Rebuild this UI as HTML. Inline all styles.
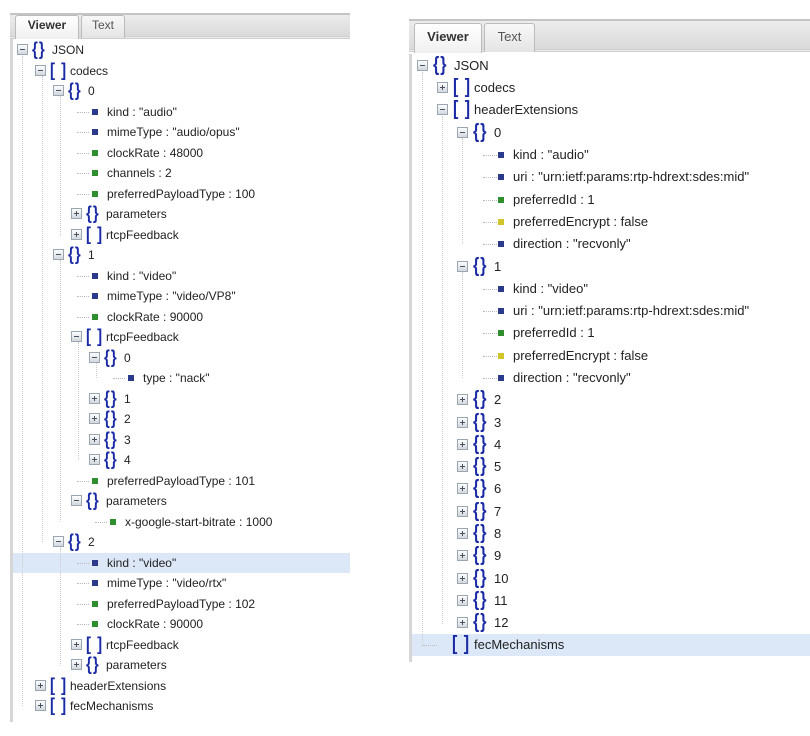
<!DOCTYPE html>
<html><head><meta charset="utf-8"><style>
html,body{margin:0;padding:0;background:#fff;width:810px;height:736px;overflow:hidden;font-family:"Liberation Sans",sans-serif;color:#222}
.abs{position:absolute}
.bar{position:absolute;background:linear-gradient(#ececec,#dadada);border-top:2px solid #c4c4c4;border-bottom:3px double #cfcfcf}
.tab{position:absolute;background:linear-gradient(#f8f8f8,#e4e4e4);border:1px solid #bbb;border-bottom:none;border-radius:3px 3px 0 0;text-align:center;color:#555}
.tab.on{background:linear-gradient(#ffffff,#f0f0f0);color:#333;font-weight:bold}
.r{position:absolute;white-space:nowrap}
.ex{position:absolute;width:9px;height:9px;border:1px solid #9aa6b2;background:linear-gradient(#fdfdfd,#d3d8de)}
.ex::before{content:"";position:absolute;left:2px;top:4px;width:5px;height:1px;background:#4a5260}
.ex.p::after{content:"";position:absolute;left:4px;top:2px;width:1px;height:5px;background:#4a5260}
.ic{position:absolute;color:#1b2ba6;font-weight:bold;letter-spacing:1px;transform:scaleY(1.25);transform-origin:0 50%}
.lb{position:absolute}
.sq{position:absolute;width:6px;height:6px}
.b{background:#2b3a8a}.g{background:#2f8f2f}.y{background:#cfc42a}
.dh{position:absolute;border-top:1px dotted #bbb;height:0}
.dv{position:absolute;border-left:1px dotted #ccc;width:0}
.L .r{height:20px;line-height:20px;font-size:12px}
.L .ex{top:4px}
.L .ic{font-size:15px;top:0px;left:15px}
.L .lb{left:35px}
.L .sq{left:21px;top:7px}
.L .lf .lb{left:36px}
.L .dh{left:6px;width:12px;top:10px}
.R .r{height:22px;line-height:22px;font-size:13px}
.R .ex{top:5px}
.R .ic{font-size:16px;top:0px;left:16px}
.R .lb{left:37px}
.R .sq{left:21px;top:8px}
.R .lf .lb{left:36px}
.R .dh{left:6px;width:14px;top:11px}
</style></head><body>

<!-- LEFT PANEL -->
<div class="bar" style="left:10px;top:13px;width:340px;height:21px"></div>
<div class="tab on" style="left:15px;top:15px;width:62px;height:23px;line-height:18px;font-size:12px">Viewer</div>
<div class="tab" style="left:81px;top:15px;width:42px;height:22px;line-height:18px;font-size:12px">Text</div>
<div class="abs" style="left:10px;top:39px;width:3px;height:683px;background:#d6d6d6"></div>
<div class="abs" style="left:13px;top:553px;width:337px;height:20px;background:#dce7f7"></div>

<div class="L">
<div class="dv" style="left:22px;top:56px;height:650px"></div>
<div class="dv" style="left:42px;top:76px;height:466px"></div>
<div class="dv" style="left:60px;top:96px;height:140px"></div>
<div class="dv" style="left:60px;top:260px;height:262px"></div>
<div class="dv" style="left:60px;top:548px;height:118px"></div>
<div class="dv" style="left:78px;top:342px;height:118px"></div>
<div class="dv" style="left:96px;top:363px;height:15px"></div>

<div class="r" style="top:40px;left:17px"><span class="ex"></span><span class="ic">{}</span><span class="lb">JSON</span></div>
<div class="r" style="top:61px;left:35px"><span class="ex"></span><span class="ic">[ ]</span><span class="lb">codecs</span></div>
<div class="r" style="top:81px;left:53px"><span class="ex"></span><span class="ic">{}</span><span class="lb">0</span></div>
<div class="r lf" style="top:102px;left:71px"><span class="dh"></span><span class="sq b"></span><span class="lb">kind : "audio"</span></div>
<div class="r lf" style="top:122px;left:71px"><span class="dh"></span><span class="sq b"></span><span class="lb">mimeType : "audio/opus"</span></div>
<div class="r lf" style="top:143px;left:71px"><span class="dh"></span><span class="sq g"></span><span class="lb">clockRate : 48000</span></div>
<div class="r lf" style="top:163px;left:71px"><span class="dh"></span><span class="sq g"></span><span class="lb">channels : 2</span></div>
<div class="r lf" style="top:184px;left:71px"><span class="dh"></span><span class="sq g"></span><span class="lb">preferredPayloadType : 100</span></div>
<div class="r" style="top:204px;left:71px"><span class="ex p"></span><span class="ic">{}</span><span class="lb">parameters</span></div>
<div class="r" style="top:225px;left:71px"><span class="ex p"></span><span class="ic">[ ]</span><span class="lb">rtcpFeedback</span></div>
<div class="r" style="top:245px;left:53px"><span class="ex"></span><span class="ic">{}</span><span class="lb">1</span></div>
<div class="r lf" style="top:266px;left:71px"><span class="dh"></span><span class="sq b"></span><span class="lb">kind : "video"</span></div>
<div class="r lf" style="top:286px;left:71px"><span class="dh"></span><span class="sq b"></span><span class="lb">mimeType : "video/VP8"</span></div>
<div class="r lf" style="top:307px;left:71px"><span class="dh"></span><span class="sq g"></span><span class="lb">clockRate : 90000</span></div>
<div class="r" style="top:327px;left:71px"><span class="ex"></span><span class="ic">[ ]</span><span class="lb">rtcpFeedback</span></div>
<div class="r" style="top:348px;left:89px"><span class="ex"></span><span class="ic">{}</span><span class="lb">0</span></div>
<div class="r lf" style="top:368px;left:107px"><span class="dh"></span><span class="sq b"></span><span class="lb">type : "nack"</span></div>
<div class="r" style="top:389px;left:89px"><span class="ex p"></span><span class="ic">{}</span><span class="lb">1</span></div>
<div class="r" style="top:409px;left:89px"><span class="ex p"></span><span class="ic">{}</span><span class="lb">2</span></div>
<div class="r" style="top:430px;left:89px"><span class="ex p"></span><span class="ic">{}</span><span class="lb">3</span></div>
<div class="r" style="top:450px;left:89px"><span class="ex p"></span><span class="ic">{}</span><span class="lb">4</span></div>
<div class="r lf" style="top:471px;left:71px"><span class="dh"></span><span class="sq g"></span><span class="lb">preferredPayloadType : 101</span></div>
<div class="r" style="top:491px;left:71px"><span class="ex"></span><span class="ic">{}</span><span class="lb">parameters</span></div>
<div class="r lf" style="top:512px;left:89px"><span class="dh"></span><span class="sq g"></span><span class="lb">x-google-start-bitrate : 1000</span></div>
<div class="r" style="top:532px;left:53px"><span class="ex"></span><span class="ic">{}</span><span class="lb">2</span></div>
<div class="r lf" style="top:553px;left:71px"><span class="dh"></span><span class="sq b"></span><span class="lb">kind : "video"</span></div>
<div class="r lf" style="top:573px;left:71px"><span class="dh"></span><span class="sq b"></span><span class="lb">mimeType : "video/rtx"</span></div>
<div class="r lf" style="top:594px;left:71px"><span class="dh"></span><span class="sq g"></span><span class="lb">preferredPayloadType : 102</span></div>
<div class="r lf" style="top:614px;left:71px"><span class="dh"></span><span class="sq g"></span><span class="lb">clockRate : 90000</span></div>
<div class="r" style="top:635px;left:71px"><span class="ex p"></span><span class="ic">[ ]</span><span class="lb">rtcpFeedback</span></div>
<div class="r" style="top:655px;left:71px"><span class="ex p"></span><span class="ic">{}</span><span class="lb">parameters</span></div>
<div class="r" style="top:676px;left:35px"><span class="ex p"></span><span class="ic">[ ]</span><span class="lb">headerExtensions</span></div>
<div class="r" style="top:696px;left:35px"><span class="ex p"></span><span class="ic">[ ]</span><span class="lb">fecMechanisms</span></div>
</div>

<!-- RIGHT PANEL -->
<div class="bar" style="left:409px;top:19px;width:401px;height:28px"></div>
<div class="tab on" style="left:414px;top:23px;width:66px;height:29px;line-height:26px;font-size:13px">Viewer</div>
<div class="tab" style="left:484px;top:23px;width:49px;height:28px;line-height:26px;font-size:13px">Text</div>
<div class="abs" style="left:409px;top:54px;width:3px;height:608px;background:#d6d6d6"></div>
<div class="abs" style="left:412px;top:634px;width:398px;height:22px;background:#dce7f7"></div>

<div class="R">
<div class="dv" style="left:422px;top:72px;height:574px"></div>
<div class="dv" style="left:442px;top:116px;height:508px"></div>
<div class="dv" style="left:462px;top:138px;height:106px"></div>
<div class="dv" style="left:462px;top:272px;height:106px"></div>

<div class="r" style="top:55px;left:417px"><span class="ex"></span><span class="ic">{}</span><span class="lb">JSON</span></div>
<div class="r" style="top:77px;left:437px"><span class="ex p"></span><span class="ic">[ ]</span><span class="lb">codecs</span></div>
<div class="r" style="top:99px;left:437px"><span class="ex"></span><span class="ic">[ ]</span><span class="lb">headerExtensions</span></div>
<div class="r" style="top:122px;left:457px"><span class="ex"></span><span class="ic">{}</span><span class="lb">0</span></div>
<div class="r lf" style="top:144px;left:477px"><span class="dh"></span><span class="sq b"></span><span class="lb">kind : "audio"</span></div>
<div class="r lf" style="top:166px;left:477px"><span class="dh"></span><span class="sq b"></span><span class="lb">uri : "urn:ietf:params:rtp-hdrext:sdes:mid"</span></div>
<div class="r lf" style="top:189px;left:477px"><span class="dh"></span><span class="sq g"></span><span class="lb">preferredId : 1</span></div>
<div class="r lf" style="top:211px;left:477px"><span class="dh"></span><span class="sq y"></span><span class="lb">preferredEncrypt : false</span></div>
<div class="r lf" style="top:233px;left:477px"><span class="dh"></span><span class="sq b"></span><span class="lb">direction : "recvonly"</span></div>
<div class="r" style="top:256px;left:457px"><span class="ex"></span><span class="ic">{}</span><span class="lb">1</span></div>
<div class="r lf" style="top:278px;left:477px"><span class="dh"></span><span class="sq b"></span><span class="lb">kind : "video"</span></div>
<div class="r lf" style="top:300px;left:477px"><span class="dh"></span><span class="sq b"></span><span class="lb">uri : "urn:ietf:params:rtp-hdrext:sdes:mid"</span></div>
<div class="r lf" style="top:322px;left:477px"><span class="dh"></span><span class="sq g"></span><span class="lb">preferredId : 1</span></div>
<div class="r lf" style="top:345px;left:477px"><span class="dh"></span><span class="sq y"></span><span class="lb">preferredEncrypt : false</span></div>
<div class="r lf" style="top:367px;left:477px"><span class="dh"></span><span class="sq b"></span><span class="lb">direction : "recvonly"</span></div>
<div class="r" style="top:389px;left:457px"><span class="ex p"></span><span class="ic">{}</span><span class="lb">2</span></div>
<div class="r" style="top:412px;left:457px"><span class="ex p"></span><span class="ic">{}</span><span class="lb">3</span></div>
<div class="r" style="top:434px;left:457px"><span class="ex p"></span><span class="ic">{}</span><span class="lb">4</span></div>
<div class="r" style="top:456px;left:457px"><span class="ex p"></span><span class="ic">{}</span><span class="lb">5</span></div>
<div class="r" style="top:478px;left:457px"><span class="ex p"></span><span class="ic">{}</span><span class="lb">6</span></div>
<div class="r" style="top:501px;left:457px"><span class="ex p"></span><span class="ic">{}</span><span class="lb">7</span></div>
<div class="r" style="top:523px;left:457px"><span class="ex p"></span><span class="ic">{}</span><span class="lb">8</span></div>
<div class="r" style="top:545px;left:457px"><span class="ex p"></span><span class="ic">{}</span><span class="lb">9</span></div>
<div class="r" style="top:568px;left:457px"><span class="ex p"></span><span class="ic">{}</span><span class="lb">10</span></div>
<div class="r" style="top:590px;left:457px"><span class="ex p"></span><span class="ic">{}</span><span class="lb">11</span></div>
<div class="r" style="top:612px;left:457px"><span class="ex p"></span><span class="ic">{}</span><span class="lb">12</span></div>
<div class="r" style="top:634px;left:437px"><span class="dh" style="left:-14px;width:14px"></span><span class="ic" style="left:15px">[ ]</span><span class="lb" style="left:37px">fecMechanisms</span></div>
</div>
</body></html>
